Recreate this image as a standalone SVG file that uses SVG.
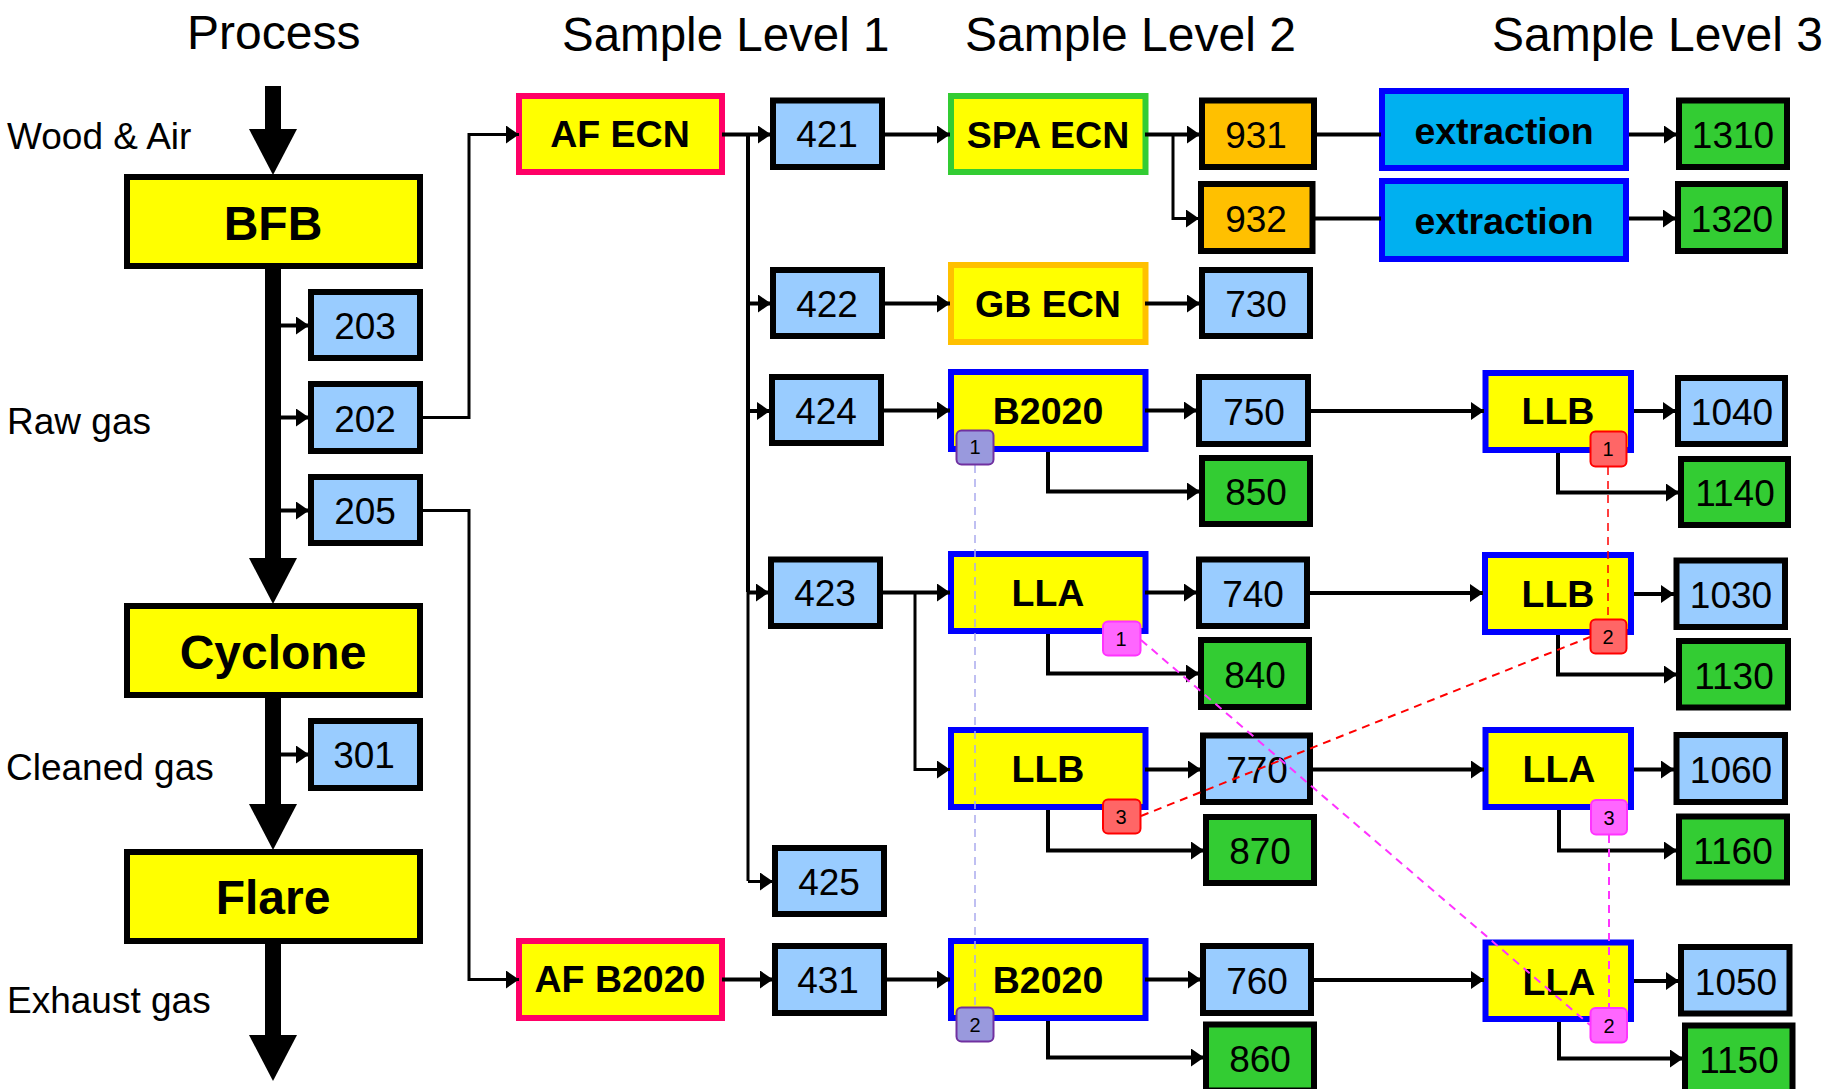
<svg xmlns="http://www.w3.org/2000/svg" width="1825" height="1089" viewBox="0 0 1825 1089">
<style>
text{font-family:"Liberation Sans",Arial,sans-serif;fill:#000}
.t{font-size:48px}
.s{font-size:37px}
.n text,.big text,.y text,.e text{text-anchor:middle}
.n rect{stroke:#000;stroke-width:6}
.n text{font-size:37px}
.blue rect{fill:#99CCFF}
.gr rect{fill:#33CC33}
.or rect{fill:#FFC000}
.y rect{fill:#FFFF00;stroke-width:6}
.y text{font-size:37.500px;font-weight:bold}
.big rect{fill:#FFFF00;stroke:#000;stroke-width:6}
.big text{font-size:48px;font-weight:bold;text-anchor:middle}
.e rect{fill:#00B0F0;stroke:#0000FF;stroke-width:6}
.e text{font-size:37.500px;font-weight:bold}
.bb rect{stroke:#0000FF}
.pk rect{stroke:#FF0066}
.sg rect{stroke:#33CC33}
.so rect{stroke:#FFC000}
.c path{fill:none;stroke:#000;stroke-width:4;marker-end:url(#a)}
.c path.p{marker-end:none}
.c path.th{stroke-width:3}
.c path.w{stroke-width:16}
.c .d path{stroke-width:1.500;stroke-dasharray:8 6;marker-end:none}
.c .d path.lav{stroke:#AAAAEE}
.c .d path.red{stroke:#FF0000}
.c .d path.redw{stroke:#FF0000;stroke-width:2}
.c .d path.mag{stroke:#FF33FF;stroke-width:2}
.b rect{stroke-width:2}
.b text{font-size:20px;text-anchor:middle}
</style>
<defs>
<marker id="a" markerUnits="userSpaceOnUse" markerWidth="14" markerHeight="18" refX="13" refY="9" orient="auto"><path d="M0 0L13 9L0 18Z" fill="#000"/></marker>
<path id="bigarrow" d="M-24 0H24L0 46Z" fill="#000"/>
</defs>
<rect width="1825" height="1089" fill="#fff"/>
<text class="t" x="187" y="49">Process</text>
<text class="t" x="562" y="51" style="font-size:47.500px">Sample Level 1</text>
<text class="t" x="965" y="51">Sample Level 2</text>
<text class="t" x="1492" y="51">Sample Level 3</text>
<text class="s" x="7" y="149">Wood &amp; Air</text>
<text class="s" x="7" y="434">Raw gas</text>
<text class="s" x="6" y="780">Cleaned gas</text>
<text class="s" x="7" y="1013">Exhaust gas</text>

<g id="node-bfb" class="big"><rect x="127" y="177" width="293" height="89"/><text x="273" y="240">BFB</text></g>
<g id="node-cyclone" class="big"><rect x="127" y="606" width="293" height="89"/><text x="273" y="669">Cyclone</text></g>
<g id="node-flare" class="big"><rect x="127" y="852" width="293" height="89"/><text x="273" y="914">Flare</text></g>

<g id="node-203" class="n blue"><rect x="311" y="292" width="109" height="66"/><text x="365" y="339">203</text></g>
<g id="node-202" class="n blue"><rect x="311" y="384" width="109" height="67"/><text x="365" y="432">202</text></g>
<g id="node-205" class="n blue"><rect x="311" y="477" width="109" height="66"/><text x="365" y="524">205</text></g>
<g id="node-301" class="n blue"><rect x="311" y="721" width="109" height="67"/><text x="364" y="768">301</text></g>

<g id="node-af-ecn" class="y pk"><rect x="519" y="96" width="203" height="76"/><text x="620" y="147">AF ECN</text></g>
<g id="node-af-b2020" class="y pk"><rect x="519" y="941" width="203" height="77"/><text x="620" y="992">AF B2020</text></g>

<g id="node-421" class="n blue"><rect x="773" y="100.500" width="109" height="66.500"/><text x="827" y="147">421</text></g>
<g id="node-422" class="n blue"><rect x="773" y="270" width="109" height="66"/><text x="827" y="317">422</text></g>
<g id="node-424" class="n blue"><rect x="772" y="377" width="109" height="66"/><text x="826" y="424">424</text></g>
<g id="node-423" class="n blue"><rect x="771" y="559.500" width="109" height="66.500"/><text x="825" y="606">423</text></g>
<g id="node-425" class="n blue"><rect x="775" y="848" width="109" height="66"/><text x="829" y="895">425</text></g>
<g id="node-431" class="n blue"><rect x="775" y="946" width="109" height="67"/><text x="828" y="993">431</text></g>

<g id="node-spa-ecn" class="y sg"><rect x="951" y="96" width="194.500" height="76"/><text x="1048" y="148">SPA ECN</text></g>
<g id="node-gb-ecn" class="y so"><rect x="951" y="265" width="194.500" height="77"/><text x="1048" y="317">GB ECN</text></g>
<g id="node-b2020-a" class="y bb"><rect x="951" y="372" width="194.500" height="77"/><text x="1048" y="424">B2020</text></g>
<g id="node-lla-a" class="y bb"><rect x="951" y="554" width="194.500" height="77"/><text x="1048" y="606">LLA</text></g>
<g id="node-llb-a" class="y bb"><rect x="951" y="730" width="194.500" height="77"/><text x="1048" y="782">LLB</text></g>
<g id="node-b2020-b" class="y bb"><rect x="951" y="941" width="194.500" height="77"/><text x="1048" y="993">B2020</text></g>

<g id="node-931" class="n or"><rect x="1202" y="100.500" width="112" height="66.500"/><text x="1256" y="148">931</text></g>
<g id="node-932" class="n or"><rect x="1201" y="184" width="111.500" height="67"/><text x="1256" y="232">932</text></g>
<g id="node-730" class="n blue"><rect x="1202" y="270" width="108" height="66"/><text x="1256" y="317">730</text></g>
<g id="node-750" class="n blue"><rect x="1199" y="377" width="109" height="67"/><text x="1254" y="425">750</text></g>
<g id="node-850" class="n gr"><rect x="1202" y="458" width="108" height="66"/><text x="1256" y="505">850</text></g>
<g id="node-740" class="n blue"><rect x="1199" y="559.500" width="108" height="66.500"/><text x="1253" y="607">740</text></g>
<g id="node-840" class="n gr"><rect x="1201" y="640" width="108" height="67"/><text x="1255" y="688">840</text></g>
<g id="node-770" class="n blue"><rect x="1203" y="735.500" width="107" height="66.500"/><text x="1257" y="783">770</text></g>
<g id="node-870" class="n gr"><rect x="1206" y="817" width="108" height="66"/><text x="1260" y="864">870</text></g>
<g id="node-760" class="n blue"><rect x="1203" y="946" width="108" height="67"/><text x="1257" y="994">760</text></g>
<g id="node-860" class="n gr"><rect x="1206" y="1024.500" width="108" height="66"/><text x="1260" y="1072">860</text></g>

<g id="node-extraction-1" class="e"><rect x="1382" y="91" width="244" height="77"/><text x="1504" y="144">extraction</text></g>
<g id="node-extraction-2" class="e"><rect x="1382" y="181" width="244" height="78"/><text x="1504" y="234">extraction</text></g>
<g id="node-llb-b" class="y bb"><rect x="1485.500" y="373" width="145.500" height="77"/><text x="1558" y="424">LLB</text></g>
<g id="node-llb-c" class="y bb"><rect x="1485" y="555" width="146" height="77"/><text x="1558" y="607">LLB</text></g>
<g id="node-lla-b" class="y bb"><rect x="1485.500" y="730" width="145.500" height="77"/><text x="1559" y="782">LLA</text></g>
<g id="node-lla-c" class="y bb"><rect x="1485.500" y="942.500" width="145.500" height="76.500"/><text x="1559" y="995">LLA</text></g>

<g id="node-1310" class="n gr"><rect x="1679" y="100.500" width="108" height="66.500"/><text x="1733" y="148">1310</text></g>
<g id="node-1320" class="n gr"><rect x="1678" y="184" width="107" height="67"/><text x="1732" y="232">1320</text></g>
<g id="node-1040" class="n blue"><rect x="1678" y="378" width="107" height="66"/><text x="1732" y="425">1040</text></g>
<g id="node-1140" class="n gr"><rect x="1681" y="459" width="107" height="66"/><text x="1735" y="506">1140</text></g>
<g id="node-1030" class="n blue"><rect x="1676.500" y="560.500" width="108.500" height="66.500"/><text x="1731" y="608">1030</text></g>
<g id="node-1130" class="n gr"><rect x="1679" y="641" width="109" height="66.500"/><text x="1734" y="689">1130</text></g>
<g id="node-1060" class="n blue"><rect x="1676.500" y="735" width="108.500" height="67"/><text x="1731" y="783">1060</text></g>
<g id="node-1160" class="n gr"><rect x="1679" y="816.500" width="108" height="66"/><text x="1733" y="864">1160</text></g>
<g id="node-1050" class="n blue"><rect x="1681" y="947" width="108.500" height="66.500"/><text x="1736" y="995">1050</text></g>
<g id="node-1150" class="n gr"><rect x="1685" y="1025.500" width="107.500" height="67"/><text x="1739" y="1073">1150</text></g>

<g id="connectors" class="c">
<path class="p w" d="M273 86V131"/>
<use href="#bigarrow" x="273" y="129"/>
<path class="p w" d="M273 269V560"/>
<use href="#bigarrow" x="273" y="558"/>
<path class="p w" d="M273 698V806"/>
<use href="#bigarrow" x="273" y="804"/>
<path class="p w" d="M273 944V1037"/>
<use href="#bigarrow" x="273" y="1035"/>
<path d="M281 325.500H309"/>
<path d="M281 417.500H309"/>
<path d="M281 510.500H309"/>
<path d="M281 754.500H309"/>
<path class="th" d="M423 417.500H469V134.500H519"/>
<path class="th" d="M423 510.500H469V979.500H519"/>
<path d="M722 134.500H771"/>
<path class="p" d="M748 134V592"/>
<path class="p th" d="M748 592V881"/>
<path d="M748 303.500H771"/>
<path d="M748 411H770"/>
<path d="M748 592.500H769"/>
<path class="th" d="M748 881.500H773"/>
<path d="M722 979.500H773"/>
<path d="M885 134.500H950"/>
<path d="M885 303.500H950"/>
<path d="M884 410.500H950"/>
<path d="M883 592.500H950"/>
<path class="th" d="M915 592V769.500H950"/>
<path d="M886 979.500H950"/>
<path d="M1145 134.500H1200"/>
<path class="th" d="M1173 134V218.500H1199"/>
<path class="p" d="M1317 134.500H1381"/>
<path class="p" d="M1315 218.500H1381"/>
<path d="M1629 134.500H1677"/>
<path d="M1629 218.500H1676"/>
<path d="M1145 303.500H1200"/>
<path d="M1145 410.500H1197"/>
<path d="M1311 411H1484"/>
<path d="M1634 411H1676"/>
<path d="M1048 452V491.500H1200"/>
<path d="M1558 453V492.500H1679"/>
<path d="M1145 592.500H1197"/>
<path d="M1310 593H1483"/>
<path d="M1634 594H1674"/>
<path d="M1048 634V673.500H1199"/>
<path d="M1558 635V674.500H1677"/>
<path d="M1145 769.500H1201"/>
<path d="M1313 769.500H1484"/>
<path d="M1634 769.500H1674"/>
<path d="M1048 810V850.500H1204"/>
<path d="M1559 810V850.500H1677"/>
<path d="M1145 979.500H1201"/>
<path d="M1314 980H1484"/>
<path d="M1634 981H1679"/>
<path d="M1048 1021V1057.500H1204"/>
<path d="M1559 1022V1058.500H1683"/>
<g class="d">
<path class="lav" d="M975 465V1007"/>
<path class="red" d="M1608 467V619"/>
<path class="redw" d="M1141 816L1590 637"/>
<path class="mag" d="M1141 640L1590 1025"/>
<path class="mag" d="M1609 835V1007"/>
</g>
</g>

<g id="badge-p1" class="b"><rect x="956.500" y="430.500" width="37" height="34" rx="5" fill="#9999DD" stroke="#7030A0"/><text x="975" y="454">1</text></g>
<g id="badge-p2" class="b"><rect x="956.500" y="1007.500" width="37" height="34" rx="5" fill="#9999DD" stroke="#7030A0"/><text x="975" y="1032">2</text></g>
<g id="badge-r1" class="b"><rect x="1590.500" y="431.500" width="36" height="35" rx="5" fill="#FF6666" stroke="#FF0000"/><text x="1608" y="456">1</text></g>
<g id="badge-r2" class="b"><rect x="1590.500" y="619.500" width="36" height="34" rx="5" fill="#FF6666" stroke="#FF0000"/><text x="1608" y="644">2</text></g>
<g id="badge-r3" class="b"><rect x="1103" y="799.500" width="37.500" height="34" rx="5" fill="#FF6666" stroke="#FF0000"/><text x="1121" y="824">3</text></g>
<g id="badge-m1" class="b"><rect x="1103" y="621.500" width="37.500" height="34" rx="5" fill="#FF66FF" stroke="#FF33FF"/><text x="1121" y="646">1</text></g>
<g id="badge-m3" class="b"><rect x="1591" y="800" width="36" height="34.500" rx="5" fill="#FF66FF" stroke="#FF33FF"/><text x="1609" y="825">3</text></g>
<g id="badge-m2" class="b"><rect x="1590.500" y="1008" width="36.500" height="34.500" rx="5" fill="#FF66FF" stroke="#FF33FF"/><text x="1609" y="1033">2</text></g>
</svg>
